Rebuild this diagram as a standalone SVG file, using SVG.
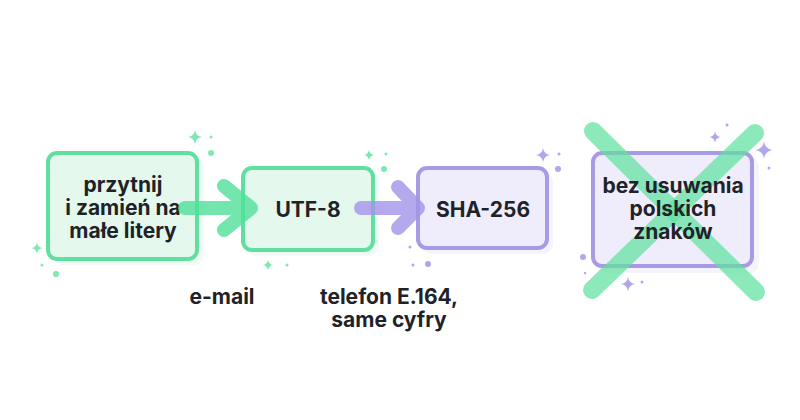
<svg xmlns="http://www.w3.org/2000/svg" width="800" height="420" viewBox="0 0 800 420">
<defs>
<style>
.t{font-family:Inter,"Liberation Sans",sans-serif;font-weight:700;font-size:21px;fill:#1f2328;text-anchor:middle}
.gbox{fill:#e4f8ee;stroke:#5fe0a0;stroke-width:4}
.pbox{fill:#efedfb;stroke:#a99ae6;stroke-width:4}
.gsh{fill:#effbf4}
.psh{fill:#f5f4fc}
.garr{stroke:#4fe098;stroke-opacity:0.8;stroke-width:14;stroke-linecap:round;stroke-linejoin:round;fill:none}
.parr{stroke:#a394e8;stroke-opacity:0.8;stroke-width:14;stroke-linecap:round;stroke-linejoin:round;fill:none}
.gs{fill:#7fe8b4}
.ps{fill:#b3a7ec}
.cross{stroke:#5fe0a0;stroke-opacity:0.72;stroke-width:18;stroke-linecap:round}
</style>
<path id="star" d="M0,-7 Q1,-1 7,0 Q1,1 0,7 Q-1,1 -7,0 Q-1,-1 0,-7Z"/>
</defs>
<rect width="800" height="420" fill="#ffffff"/>

<g id="sparkles">
<use href="#star" class="gs" x="195" y="137"/>
<circle class="gs" cx="211" cy="137" r="1.5"/>
<circle class="gs" cx="211" cy="153" r="3"/>
<use href="#star" class="gs" transform="translate(37 248) scale(0.8)"/>
<circle class="gs" cx="42" cy="265" r="1.5"/>
<circle class="gs" cx="56" cy="274" r="3"/>
<use href="#star" class="gs" transform="translate(369 155) scale(0.75)"/>
<circle class="gs" cx="386" cy="154" r="1.5"/>
<circle class="gs" cx="384" cy="169" r="3"/>
<use href="#star" class="gs" transform="translate(268 265) scale(0.75)"/>
<circle class="gs" cx="287" cy="265" r="1.5"/>
<use href="#star" class="ps" x="543" y="155"/>
<circle class="ps" cx="559" cy="154" r="1.5"/>
<circle class="ps" cx="558" cy="169" r="3"/>
<circle class="ps" cx="410" cy="247" r="1.5"/>
<circle class="ps" cx="413" cy="265" r="1.5"/>
<circle class="ps" cx="428" cy="264" r="3"/>
<use href="#star" class="ps" transform="translate(715 137) scale(0.8)"/>
<circle class="ps" cx="727" cy="125" r="1.5"/>
<use href="#star" class="ps" transform="translate(764 150) scale(1.2)"/>
<circle class="ps" cx="769" cy="168" r="1.5"/>
<circle class="ps" cx="583" cy="257" r="3"/>
<circle class="ps" cx="585" cy="273" r="1.2"/>
<use href="#star" class="ps" x="628" y="284"/>
<circle class="ps" cx="642" cy="282" r="1.5"/>
</g>

<g id="node-trim">
<rect class="gsh" x="52" y="157" width="152" height="108" rx="10"/>
<rect class="gbox" x="48" y="153" width="149" height="106" rx="9"/>
<text class="t" x="123" y="192">przytnij</text>
<text class="t" x="123" y="215">i zamień na</text>
<text class="t" x="123" y="238">małe litery</text>
</g>

<g id="node-utf8">
<rect class="gsh" x="247" y="172" width="132" height="84" rx="10"/>
<rect class="gbox" x="243" y="168" width="130" height="82" rx="9"/>
<text class="t" x="308" y="217">UTF-8</text>
</g>

<g id="node-sha">
<rect class="psh" x="422" y="172" width="131" height="82" rx="10"/>
<rect class="pbox" x="418" y="168" width="129" height="80" rx="9"/>
<text class="t" x="483" y="217">SHA-256</text>
</g>

<g id="node-nopl">
<rect class="psh" x="597" y="157" width="162" height="116" rx="10"/>
<rect class="pbox" x="593" y="153" width="159" height="113" rx="9"/>
<g id="cross">
<line class="cross" x1="593" y1="131" x2="756" y2="292"/>
<line class="cross" x1="755" y1="133" x2="592" y2="290"/>
</g>
<text class="t" x="673" y="193">bez usuwania</text>
<text class="t" x="673" y="216">polskich</text>
<text class="t" x="673" y="239">znaków</text>
</g>

<g id="connectors">
<path class="garr" d="M185,208 H251 M224,186 L251,208 L224,230"/>
<path class="parr" d="M361,208 H418 M398,187 L418,208 L398,228"/>
</g>

<g id="labels">
<text class="t" x="222" y="304">e-mail</text>
<text class="t" x="389" y="304">telefon E.164,</text>
<text class="t" x="389" y="327">same cyfry</text>
</g>
</svg>
